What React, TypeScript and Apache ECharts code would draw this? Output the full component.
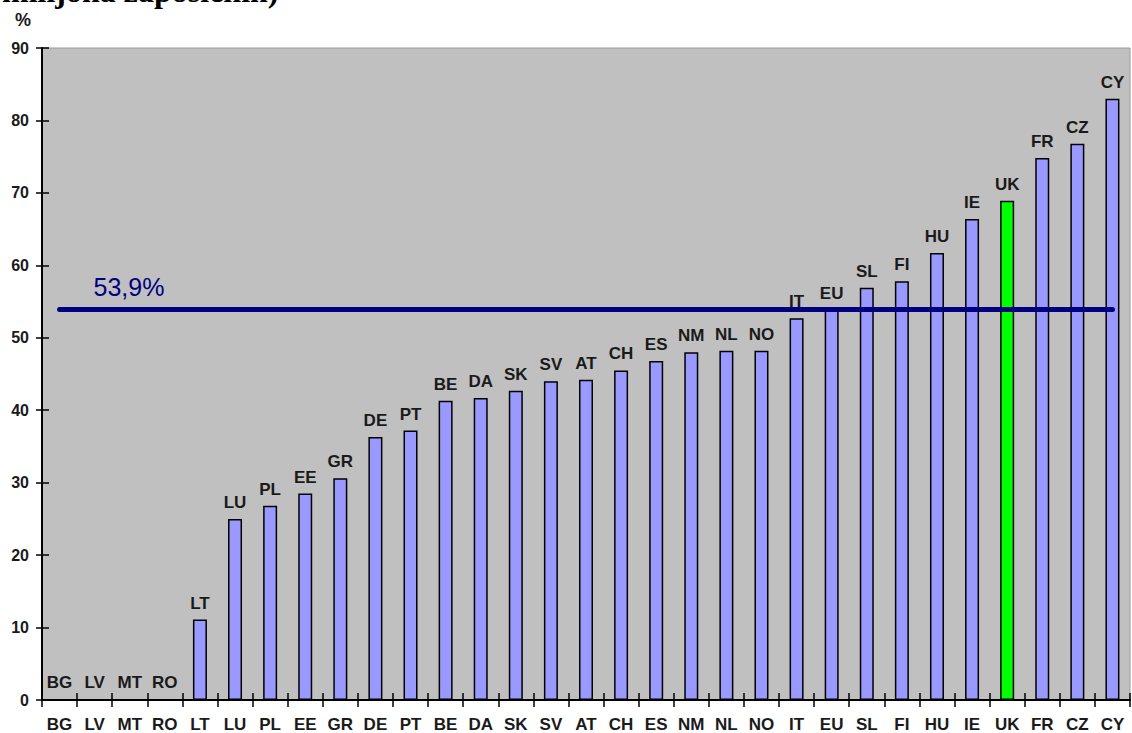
import React, { useEffect, useRef } from "react";
import * as echarts from "echarts";

// Country codes, ordered from lowest to highest share
const categories = [
  "BG", "LV", "MT", "RO", "LT", "LU", "PL", "EE", "GR", "DE", "PT",
  "BE", "DA", "SK", "SV", "AT", "CH", "ES", "NM", "NL", "NO", "IT",
  "EU", "SL", "FI", "HU", "IE", "UK", "FR", "CZ", "CY",
];

// Share in percent per country
const shares = [
  0, 0, 0, 0, 11.1, 25.0, 26.8, 28.5, 30.6, 36.3, 37.2,
  41.3, 41.7, 42.7, 44.0, 44.2, 45.5, 46.8, 48.0, 48.2, 48.2, 52.7,
  53.9, 56.9, 57.8, 61.7, 66.4, 68.9, 74.8, 76.8, 83.0,
];

const yTicks = [0, 10, 20, 30, 40, 50, 60, 70, 80, 90];

const AVERAGE = 53.9;
const HIGHLIGHT = "UK";

const SANS = '"Liberation Sans", Arial, sans-serif';
const TEXT = "#1a1a1a";

export default function App() {
  const ref = useRef<HTMLDivElement>(null);

  useEffect(() => {
    if (!ref.current) return;
    const chart = echarts.init(ref.current, null, { renderer: "svg" });

    const yMin = yTicks[0];
    const yMax = yTicks[yTicks.length - 1];
    const yStep = yTicks[1] - yTicks[0];

    chart.setOption({
      animation: false,
      backgroundColor: "#ffffff",
      grid: {
        left: 42,
        right: 2,
        top: 48,
        bottom: 33,
        show: true,
        backgroundColor: "#C0C0C0",
        borderColor: "#9a9a9a",
        borderWidth: 1,
      },
      graphic: [
        {
          type: "text",
          left: 2,
          top: -25,
          style: {
            text: "milijona zaposlenih)",
            font: 'bold 32px "Liberation Serif", "Times New Roman", serif',
            fill: "#000",
          },
        },
        {
          type: "text",
          left: 15,
          top: 11,
          style: {
            text: "%",
            font: `bold 18px ${SANS}`,
            fill: TEXT,
          },
        },
      ],
      xAxis: [
        {
          type: "category",
          data: categories,
          position: "bottom",
          axisLine: { show: true, lineStyle: { color: "#000", width: 2 } },
          axisTick: { show: true, length: 7, lineStyle: { color: "#000", width: 1.5 } },
          axisLabel: {
            interval: 0,
            margin: 16,
            fontSize: 17,
            fontWeight: "bold",
            fontFamily: SANS,
            color: TEXT,
          },
          splitLine: { show: false },
        },
        {
          type: "category",
          data: categories,
          position: "bottom",
          offset: -7,
          axisLine: { show: false },
          axisTick: { show: true, length: 7, lineStyle: { color: "#000", width: 1.5 } },
          axisLabel: { show: false },
          splitLine: { show: false },
        },
      ],
      yAxis: [
        {
          type: "value",
          position: "left",
          min: yMin,
          max: yMax,
          interval: yStep,
          axisLine: { show: true, lineStyle: { color: "#000", width: 2 } },
          axisTick: { show: true, length: 6, lineStyle: { color: "#000", width: 1.5 } },
          axisLabel: {
            margin: 13,
            fontSize: 16,
            fontWeight: "bold",
            fontFamily: SANS,
            color: TEXT,
          },
          splitLine: { show: false },
        },
        {
          type: "value",
          position: "left",
          offset: -7,
          min: yMin,
          max: yMax,
          interval: yStep,
          axisLine: { show: false },
          axisTick: { show: true, length: 7, lineStyle: { color: "#000", width: 1.5 } },
          axisLabel: { show: false },
          splitLine: { show: false },
        },
      ],
      series: [
        {
          type: "bar",
          xAxisIndex: 0,
          yAxisIndex: 0,
          barWidth: 14,
          data: shares.map((v, i) => ({
            value: v,
            itemStyle: categories[i] === HIGHLIGHT ? { color: "#00FF00" } : undefined,
          })),
          itemStyle: { color: "#9999FF", borderColor: "#000", borderWidth: 1.5 },
          label: {
            show: true,
            position: "top",
            distance: 8,
            formatter: "{b}",
            fontSize: 17,
            fontWeight: "bold",
            fontFamily: SANS,
            color: TEXT,
          },
          markLine: {
            silent: true,
            symbol: "none",
            z: 10,
            lineStyle: { color: "#000080", width: 5, type: "solid", cap: "round" },
            label: {
              show: true,
              position: "insideStartTop",
              distance: [34, 10],
              formatter: AVERAGE.toFixed(1).replace(".", ",") + "%",
              color: "#000080",
              fontSize: 25,
              fontFamily: SANS,
            },
            data: [
              [
                { coord: [categories[0], AVERAGE] },
                { coord: [categories[categories.length - 1], AVERAGE] },
              ],
            ],
          },
        },
      ],
    });

    return () => chart.dispose();
  }, []);

  return (
    <div
      ref={ref}
      style={{ position: "absolute", left: 0, top: 0, width: 1132, height: 733 }}
    />
  );
}
